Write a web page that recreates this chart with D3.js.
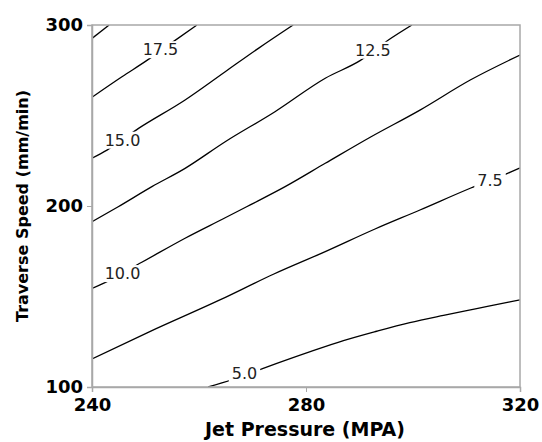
<!DOCTYPE html>
<html>
<head>
<meta charset="utf-8">
<script src="https://cdn.jsdelivr.net/npm/d3@7"></script>
<style>
  body { margin: 0; background: #fff; }
  svg { display: block; }
</style>
</head>
<body>
<div id="chart"></div>
<script>
// axis ticks
var pressureTicks = [240, 280, 320];
var speedTicks = [100, 200, 300];

// contour lines, [jet pressure, traverse speed]
var c5 = [[261.7, 100], [266.1, 103.9], [272.0, 110.3], [280.8, 119.5], [287.0, 125.6],
  [293.2, 130.8], [299.4, 135.6], [305.7, 139.6], [311.9, 143.3], [318.1, 147.0], [320, 148.1]];
var c7_5 = [[240, 115.5], [250.8, 130.6], [263.9, 148.1], [273.9, 162.3], [283.6, 174.8], [292.9, 187.3],
  [301.3, 197.8], [310.7, 209.8], [318.1, 218.6], [320, 221.0]];
var c10 = [[240, 154.5], [241.5, 156.4], [249.3, 168.9], [257.4, 182.2], [264.9, 193.5], [268.9, 199.6],
  [276.1, 210.7], [283.6, 223.6], [292.0, 238.0], [301.3, 253.0], [310.7, 269.6], [320, 283.4]];
var c12_5 = [[240, 191.3], [244.9, 199.6], [251.2, 210.7], [257.4, 220.8], [264.9, 235.5], [274.2, 252.1],
  [283.6, 270.6], [290.1, 280.3], [295.4, 291.7], [299.8, 300]];
var c15 = [[240, 226.4], [242.8, 230.9], [248.7, 242.9], [257.4, 258.6], [264.9, 274.2], [271.1, 287.1],
  [277.6, 300]];
var c17_5 = [[240, 260.1], [245.6, 271.4], [250.2, 280.3], [255.2, 290.8], [259.6, 300]];
var c20 = [[240, 292.6], [243.2, 300]];
var contours = [c5, c7_5, c10, c12_5, c15, c17_5, c20];

// inline labels
var labelText = ["5.0", "7.5", "10.0", "12.5", "15.0", "17.5"];
var labelP = [268.5, 314.4, 245.7, 292.5, 245.7, 252.8];
var labelS = [107.6, 214.4, 162.8, 286.2, 236.5, 286.5];

var W = 542, H = 442;
var margin = {top: 25, right: 22, bottom: 55, left: 92};
var w = W - margin.left - margin.right,
  h = H - margin.top - margin.bottom;

var svg = d3.select("#chart").append("svg")
  .attr("width", W)
  .attr("height", H);

var g = svg.append("g")
  .attr("transform", "translate(" + margin.left + "," + margin.top + ")");

var x = d3.scaleLinear().domain([240, 320]).range([0, w]);
var y = d3.scaleLinear().domain([100, 300]).range([h, 0]);

g.append("clipPath").attr("id", "clip")
  .append("rect").attr("width", w).attr("height", h);

// contours
var line = d3.line()
  .curve(d3.curveMonotoneX)
  .x(function (d) { return x(d[0]); })
  .y(function (d) { return y(d[1]); });

g.append("g").attr("clip-path", "url(#clip)")
  .selectAll("path")
  .data(contours)
  .enter()
  .append("path")
  .attr("d", line)
  .attr("fill", "none")
  .attr("stroke", "#000")
  .attr("stroke-width", 1.3);

// labels with white patch to break the line
var labels = g.append("g").selectAll("g")
  .data(labelText)
  .enter()
  .append("g")
  .attr("transform", function (d, i) {
    return "translate(" + x(labelP[i]) + "," + y(labelS[i]) + ")";
  });

labels.append("rect")
  .attr("fill", "#fff");

labels.append("text")
  .attr("text-anchor", "middle")
  .attr("dy", "0.36em")
  .style("font-family", "'DejaVu Sans', Verdana, sans-serif")
  .style("font-size", "16px")
  .attr("fill", "#222")
  .text(function (d) { return d; });

labels.each(function () {
  var t = d3.select(this).select("text").node().getBBox();
  d3.select(this).select("rect")
    .attr("x", t.x - 3)
    .attr("y", t.y + 1)
    .attr("width", t.width + 6)
    .attr("height", t.height - 2);
});

// frame
var frameColor = "#a8a8a8";
g.append("rect")
  .attr("width", w)
  .attr("height", h)
  .attr("fill", "none")
  .attr("stroke", frameColor)
  .attr("stroke-width", 1.5);

// axes
var xAxis = g.append("g")
  .attr("transform", "translate(0," + h + ")")
  .call(d3.axisBottom(x).tickValues(pressureTicks).tickSize(5).tickPadding(6));

var yAxis = g.append("g")
  .call(d3.axisLeft(y).tickValues(speedTicks).tickSize(5).tickPadding(4));

[xAxis, yAxis].forEach(function (a) {
  a.select(".domain").attr("stroke", frameColor).attr("stroke-width", 1.5);
  a.selectAll(".tick line").attr("stroke", frameColor);
  a.selectAll(".tick text")
    .attr("fill", "#000")
    .style("font-family", "'DejaVu Sans', Verdana, sans-serif")
    .style("font-weight", "bold")
    .style("font-size", "18px");
});

// axis titles
svg.append("text")
  .attr("x", 305)
  .attr("y", 436)
  .attr("text-anchor", "middle")
  .style("font-family", "'DejaVu Sans', Verdana, sans-serif")
  .style("font-weight", "bold")
  .style("font-size", "19px")
  .text("Jet Pressure (MPA)");

svg.append("text")
  .attr("transform", "translate(28,206) rotate(-90)")
  .attr("text-anchor", "middle")
  .style("font-family", "'DejaVu Sans', Verdana, sans-serif")
  .style("font-weight", "bold")
  .style("font-size", "16px")
  .text("Traverse Speed (mm/min)");
</script>
</body>
</html>
